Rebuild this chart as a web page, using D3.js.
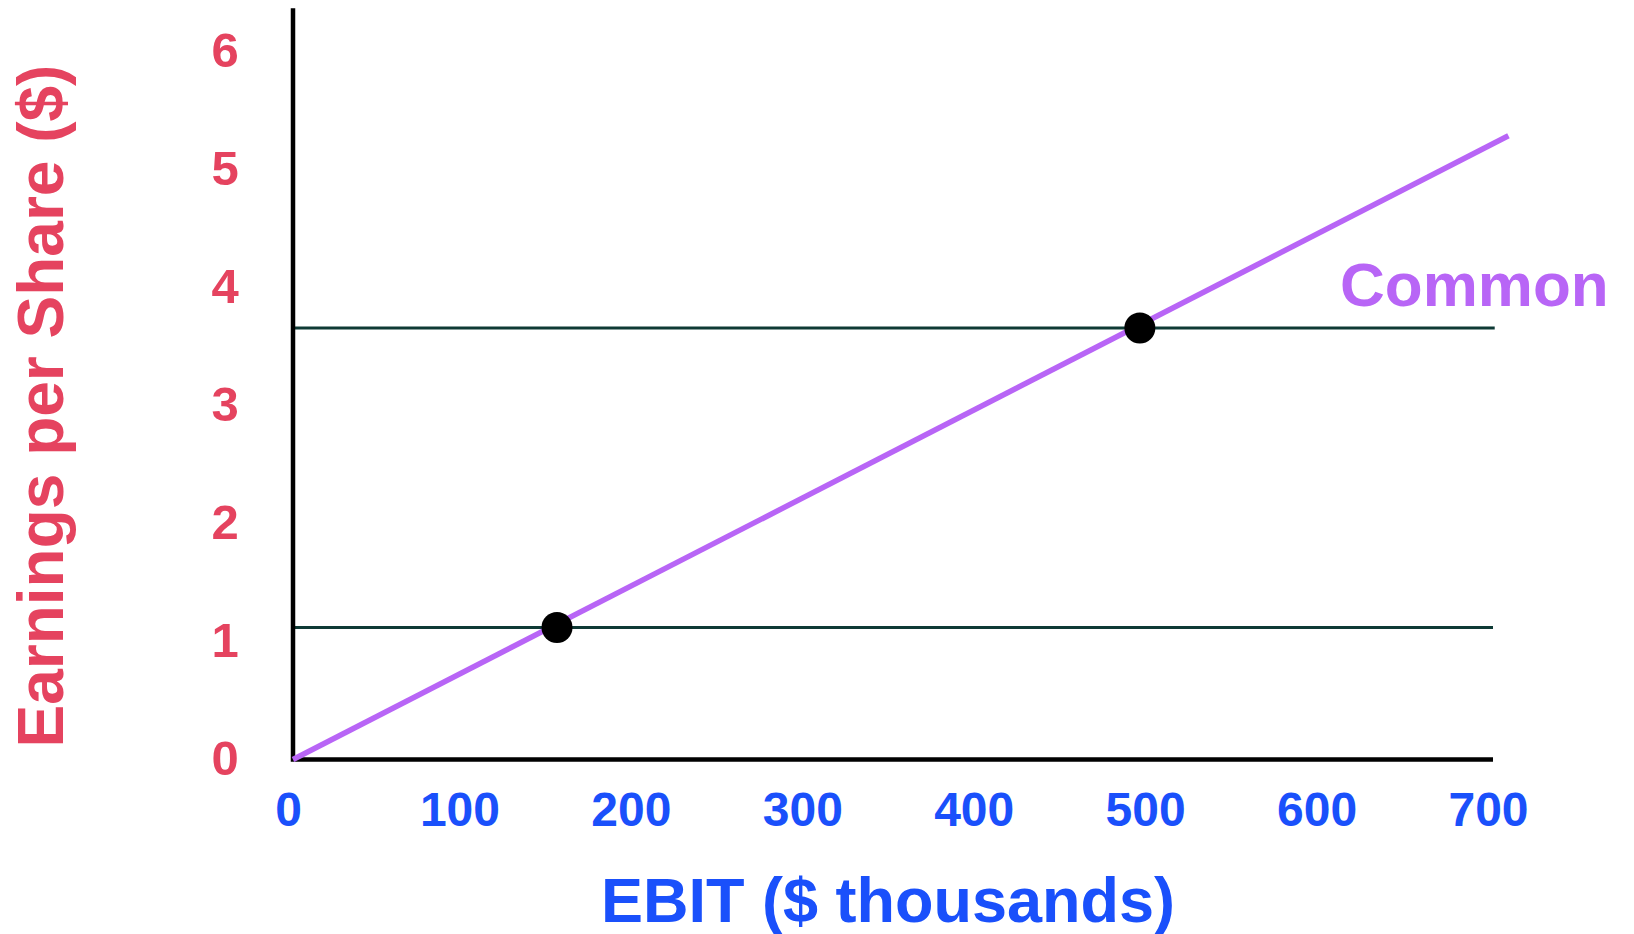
<!DOCTYPE html>
<html>
<head>
<meta charset="utf-8">
<script src="https://cdn.jsdelivr.net/npm/d3@7"></script>
<style>
  html, body { margin: 0; padding: 0; background: #ffffff; }
  svg { display: block; font-family: "Liberation Sans", Arial, Helvetica, sans-serif; font-weight: bold; }
</style>
</head>
<body>
<svg id="chart" width="1634" height="934"></svg>
<script>
// ---- data ----
const ebitTicks = [0, 100, 200, 300, 400, 500, 600, 700];
const epsTicks = [0, 1, 2, 3, 4, 5, 6];
const commonLineEbit = [0, 709];
const commonLineEps = [0, 5.29];
const breakevenEbit = [154, 494];
const breakevenEps = [1.12, 3.66];
const referenceLevels = [1.12, 3.66];
const referenceEbitEnd = [700, 701];
const seriesLabel = "Common";
const xTitle = "EBIT ($ thousands)";
const yTitle = "Earnings per Share ($)";

// ---- layout ----
const svg = d3.select("#chart");
const x = d3.scaleLinear().domain([0, 700]).range([293, 1493]);
const y = d3.scaleLinear().domain([0, 6]).range([759.5, 52]);
const yAxisTop = 6.37;

const RED = "#e5435f";
const BLUE = "#1a50fb";
const PURPLE = "#b865f6";
const TEAL = "#0e3a35";

// horizontal reference lines
svg.append("g").selectAll("line")
  .data(referenceLevels)
  .join("line")
  .attr("x1", x(0))
  .attr("x2", (d, i) => x(referenceEbitEnd[i]))
  .attr("y1", d => y(d))
  .attr("y2", d => y(d))
  .attr("stroke", TEAL)
  .attr("stroke-width", 3);

// axes frame (L-shape)
svg.append("path")
  .attr("d", `M${x(0)},${y(yAxisTop)} V${y(0)} H${x(700)}`)
  .attr("fill", "none")
  .attr("stroke", "#000")
  .attr("stroke-width", 4.5)
  .attr("stroke-linejoin", "miter");

// common stock EPS line
const linePts = commonLineEbit.map((e, i) => [e, commonLineEps[i]]);
svg.append("path")
  .datum(linePts)
  .attr("d", d3.line().x(d => x(d[0])).y(d => y(d[1])))
  .attr("fill", "none")
  .attr("stroke", PURPLE)
  .attr("stroke-width", 5.5);

// breakeven dots
svg.append("g").selectAll("circle")
  .data(breakevenEbit.map((e, i) => [e, breakevenEps[i]]))
  .join("circle")
  .attr("cx", d => x(d[0]))
  .attr("cy", d => y(d[1]))
  .attr("r", 15.5)
  .attr("fill", "#000");

// x axis tick labels
const gx = svg.append("g")
  .attr("transform", `translate(0,${y(0)})`)
  .call(d3.axisBottom(x).tickValues(ebitTicks).tickSize(0).tickFormat(d3.format("d")));
gx.select(".domain").remove();
gx.selectAll("text")
  .attr("y", 66.5)
  .attr("dy", 0)
  .attr("dx", -5)
  .attr("fill", BLUE)
  .attr("font-size", 48)
  .attr("font-weight", "bold")
  .attr("font-family", '"Liberation Sans", Arial, sans-serif');

// y axis tick labels
const gy = svg.append("g")
  .attr("transform", `translate(225,0)`)
  .call(d3.axisLeft(y).tickValues(epsTicks).tickSize(0).tickFormat(d3.format("d")));
gy.select(".domain").remove();
gy.selectAll("text")
  .attr("x", 0)
  .attr("dy", "0.3em")
  .attr("text-anchor", "middle")
  .attr("fill", RED)
  .attr("font-size", 49)
  .attr("font-weight", "bold")
  .attr("font-family", '"Liberation Sans", Arial, sans-serif');

// series label
svg.append("text")
  .attr("x", 1340)
  .attr("y", 306)
  .attr("fill", PURPLE)
  .attr("font-size", 62)
  .text(seriesLabel);

// axis titles
svg.append("text")
  .attr("x", 888)
  .attr("y", 922)
  .attr("text-anchor", "middle")
  .attr("fill", BLUE)
  .attr("font-size", 63)
  .text(xTitle);

svg.append("text")
  .attr("transform", "translate(63,406) rotate(-90)")
  .attr("text-anchor", "middle")
  .attr("fill", RED)
  .attr("font-size", 64)
  .text(yTitle);
</script>
</body>
</html>
